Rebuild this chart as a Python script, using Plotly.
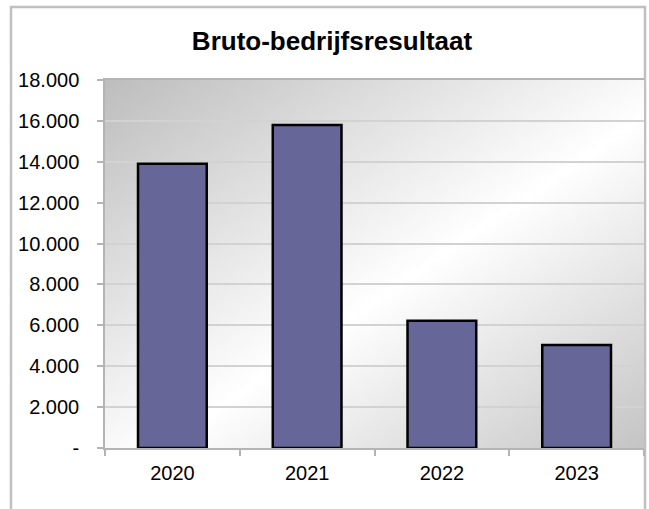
import plotly.graph_objects as go
import urllib.parse

categories = ["2020", "2021", "2022", "2023"]
values = [13900, 15800, 6230, 5040]
tick_vals = [0, 2000, 4000, 6000, 8000, 10000, 12000, 14000, 16000, 18000]
tick_text = ["-", "2.000", "4.000", "6.000", "8.000", "10.000", "12.000", "14.000", "16.000", "18.000"]
title_text = "Bruto-bedrijfsresultaat"

W, H = 649, 509
L, R, T, B = 105, 5, 80, 61
pw, ph = W - L - R, H - T - B

svg = ('<svg xmlns="http://www.w3.org/2000/svg" width="100" height="100" viewBox="0 0 100 100" '
       'preserveAspectRatio="none"><defs><linearGradient id="g" x1="0" y1="0" x2="1" y2="1">'
       '<stop offset="0" stop-color="#bdbdbd"/><stop offset="0.55" stop-color="#ffffff"/>'
       '<stop offset="1" stop-color="#c4c4c4"/></linearGradient></defs>'
       '<rect x="0" y="0" width="100" height="100" fill="url(#g)"/></svg>')
src = "data:image/svg+xml;charset=utf-8," + urllib.parse.quote(svg)

fig = go.Figure(go.Bar(
    x=categories, y=values,
    marker=dict(color="#666699", line=dict(color="#000000", width=2.5)),
    hoverinfo="skip",
))

fig.update_layout(
    width=W, height=H,
    margin=dict(l=L, r=R, t=T, b=B),
    paper_bgcolor="#ffffff",
    plot_bgcolor="rgba(0,0,0,0)",
    bargap=0.49,
    showlegend=False,
    font=dict(family="Liberation Sans, Arial, sans-serif", size=20, color="#000000"),
    title=dict(text="<b>" + title_text + "</b>", x=332 / W, y=1 - 41 / H,
               xref="container", yref="container", xanchor="center", yanchor="middle",
               font=dict(size=26, color="#000000")),
    images=[dict(source=src, xref="x domain", yref="y domain", x=0, y=1, sizex=1, sizey=1,
                 xanchor="left", yanchor="top", sizing="stretch", layer="below")],
    shapes=[dict(type="rect", xref="paper", yref="paper",
                 x0=(11 - L) / pw, x1=(645 - L) / pw,
                 y0=-0.5, y1=(H - B - 7) / ph,
                 line=dict(color="#c0c0c0", width=2.5), fillcolor="rgba(0,0,0,0)", layer="below")],
)

fig.update_xaxes(
    type="category", showgrid=False, showline=True, linecolor="#b4b4b4", linewidth=1.5,
    mirror=True, ticks="outside", tickson="boundaries", ticklen=6, tickcolor="#b4b4b4",
    tickwidth=1.5, ticklabelstandoff=6, tickfont=dict(size=20),
)
fig.update_yaxes(
    range=[0, 18000], tickvals=tick_vals, ticktext=tick_text,
    showgrid=True, gridcolor="#d2d2d2", gridwidth=1.5,
    showline=True, linecolor="#b4b4b4", linewidth=1.5,
    ticks="outside", ticklen=6, tickcolor="#b4b4b4", tickwidth=1.5,
    ticklabelstandoff=14, tickfont=dict(size=20), zeroline=False,
)

fig.write_html("out.html", config={"displayModeBar": False},
               post_script="document.body.style.margin='0';document.body.style.overflow='hidden';")
